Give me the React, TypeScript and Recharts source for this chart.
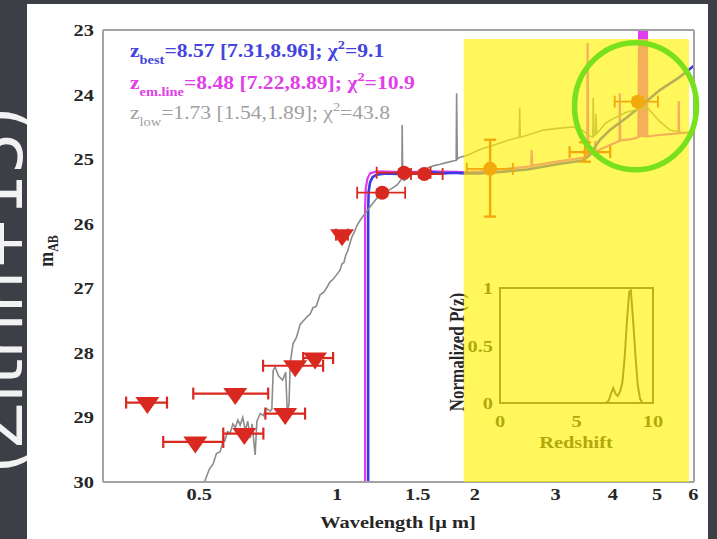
import React from 'react';
import {
  ComposedChart,
  LineChart,
  Line,
  Scatter,
  XAxis,
  YAxis,
  ErrorBar,
  ReferenceArea,
  ReferenceDot,
} from 'recharts';

const SERIF = '"Liberation Serif", "Times New Roman", Times, serif';
const SX = 1.2; // horizontal stretch applied to all chart lettering
const W = 717;
const H = 539;

const RED = '#d9281f';
const BLUE = '#3b3be2';
const MAGENTA = '#e03cf0';
const GREY = '#8c8c8c';
const FRAME = '#a2a2a2';
const INK = '#262626';

// axes
const waveTicks = [0.5, 1, 1.5, 2, 3, 4, 5, 6];
const magTicks = [23, 24, 25, 26, 27, 28, 29, 30];
const waveDomain: [number, number] = [0.308, 6.02];
const magDomain: [number, number] = [23, 30];

// non-detections (upper limits): wavelength, band edges, magnitude
const limitLam = [0.385, 0.599, 0.49, 0.627, 0.77, 0.81, 0.895, 1.025];
const limitLo = [0.346, 0.485, 0.417, 0.564, 0.697, 0.689, 0.843, 0.995];
const limitHi = [0.425, 0.707, 0.564, 0.69, 0.851, 0.932, 0.98, 1.055];
const limitMag = [28.77, 28.63, 29.38, 29.25, 28.94, 28.2, 28.08, 26.17];

// detections
const detLam = [1.254, 1.4, 1.55, 2.159, 4.54];
const detLo = [1.106, 1.22, 1.45, 1.92, 4.04];
const detHi = [1.408, 1.6, 1.7, 2.42, 5.02];
const detMag = [25.52, 25.21, 25.23, 25.15, 24.11];
const detErrBright = [0.05, 0.05, 0.05, 0.45, 0.06];
const detErrFaint = [0.05, 0.05, 0.05, 0.74, 0.06];

// weak IRAC point
const weakLam = [3.48];
const weakLo = [3.22];
const weakHi = [3.95];
const weakMag = [24.89];
const weakErr = [0.15];

// best-fit template (z = 8.57)
const bestFit: [number, number][] = [
  [1.169, 30.3], [1.169, 25.8], [1.172, 25.5], [1.18, 25.36], [1.195, 25.28], [1.22, 25.24],
  [1.28, 25.22], [1.35, 25.23], [1.42, 25.21], [1.5, 25.22], [1.6, 25.2], [1.7, 25.22],
  [1.8, 25.21], [1.9, 25.22], [2.05, 25.22], [2.27, 25.2], [2.6, 25.16], [3.07, 25.07],
  [3.44, 25.02], [3.55, 24.95], [3.62, 24.86], [3.75, 24.7], [3.945, 24.55], [4.3, 24.35],
  [4.59, 24.19], [5.07, 23.93], [5.6, 23.73], [6.1, 23.52],
];

// emission-line template (z = 8.48)
const emLineFit: [number, number][] = [
  [1.151, 30.3], [1.151, 25.75], [1.155, 25.45], [1.165, 25.3], [1.18, 25.22], [1.22, 25.19],
  [1.4, 25.2], [1.6, 25.19], [1.9, 25.2], [2.05, 25.19], [2.27, 25.16], [2.5, 25.13],
  [2.655, 25.11], [2.66, 24.86], [2.668, 25.1], [3.07, 25.03], [3.44, 24.98], [3.52, 24.95],
  [3.525, 23.2], [3.535, 24.94], [3.66, 24.9], [3.665, 24.72], [3.672, 24.9], [3.75, 24.85],
  [4.1, 24.73], [4.14, 24.72], [4.145, 23.98], [4.155, 24.71], [4.4, 24.69], [4.55, 24.66],
  [4.57, 22.8], [4.585, 24.66], [4.6, 22.8], [4.615, 24.66], [4.63, 22.8], [4.645, 24.66],
  [4.66, 22.8], [4.675, 24.66], [4.69, 22.8], [4.705, 24.66], [4.72, 22.8], [4.735, 24.66],
  [4.75, 22.8], [4.76, 24.65], [5.0, 24.63], [5.57, 24.6], [5.575, 24.1], [5.585, 24.6],
  [6.1, 24.58],
];

// low-redshift template (z = 1.73)
const lowZFit: [number, number][] = [
  [0.505, 30.2], [0.515, 29.97], [0.526, 29.8], [0.536, 29.72], [0.545, 29.56], [0.555, 29.53],
  [0.562, 29.4], [0.569, 29.36], [0.576, 29.22], [0.584, 29.24], [0.592, 29.1], [0.599, 29.16],
  [0.607, 29.04], [0.614, 29.12], [0.622, 29.0], [0.63, 29.2], [0.638, 29.06], [0.646, 29.32],
  [0.652, 29.1], [0.662, 29.58], [0.668, 29.06], [0.679, 28.94], [0.69, 28.97], [0.7, 28.86],
  [0.714, 28.9], [0.72, 28.88], [0.725, 28.27], [0.732, 28.22], [0.745, 28.36], [0.76, 28.42],
  [0.772, 28.3], [0.778, 28.9], [0.785, 28.8], [0.79, 28.15], [0.801, 27.86], [0.815, 27.76],
  [0.83, 27.56], [0.845, 27.5], [0.86, 27.44], [0.873, 27.4], [0.886, 27.3], [0.9, 27.28],
  [0.918, 27.1], [0.935, 27.06], [0.951, 26.98], [0.965, 26.9], [0.98, 26.86], [0.995, 26.8],
  [1.015, 26.72], [1.025, 26.62], [1.035, 26.6], [1.045, 26.48], [1.055, 26.42], [1.067, 26.3],
  [1.078, 26.2], [1.092, 26.12], [1.106, 26.02], [1.122, 25.95], [1.14, 25.88], [1.163, 25.8],
  [1.192, 25.7], [1.223, 25.6], [1.255, 25.55], [1.286, 25.5], [1.32, 25.45], [1.352, 25.4],
  [1.373, 25.34], [1.385, 25.3], [1.387, 24.47], [1.391, 25.3], [1.4, 25.33], [1.422, 25.3],
  [1.443, 25.25], [1.48, 25.22], [1.518, 25.18], [1.572, 25.14], [1.63, 25.1], [1.679, 25.08],
  [1.74, 25.05], [1.792, 25.03], [1.82, 25.02], [1.824, 23.98], [1.83, 25.0], [1.856, 24.97],
  [1.904, 24.95], [1.951, 24.92], [2.052, 24.85], [2.159, 24.8], [2.27, 24.75], [2.386, 24.7],
  [2.5, 24.66], [2.505, 24.2], [2.512, 24.66], [2.6, 24.63], [2.818, 24.55], [3.068, 24.52],
  [3.276, 24.5], [3.444, 24.56], [3.56, 24.64], [3.62, 24.66], [3.625, 24.05], [3.64, 24.64],
  [3.67, 24.62], [3.675, 24.3], [3.69, 24.6], [3.752, 24.55], [3.847, 24.45], [3.945, 24.4],
  [4.149, 24.32], [4.298, 24.27], [4.587, 24.22], [4.752, 24.2], [4.9, 24.3], [5.073, 24.42],
  [5.335, 24.55], [5.61, 24.58], [5.9, 24.6], [6.1, 24.6],
];

// highlighted band and ring
const bandLam: [number, number] = [1.89, 5.87];
const bandMag: [number, number] = [23.14, 30];
const ringLam = 4.486;
const ringMag = 24.18;

// redshift probability distribution
const zGrid = [0, 6.9, 7.1, 7.25, 7.4, 7.55, 7.7, 7.85, 8.0, 8.15, 8.3, 8.45, 8.55, 8.7, 8.85, 9.0, 9.15, 9.3, 10];
const pzVals = [0, 0, 0.02, 0.08, 0.13, 0.08, 0.06, 0.1, 0.18, 0.4, 0.72, 0.97, 0.98, 0.72, 0.42, 0.16, 0.04, 0, 0];
const zTicks = [0, 5, 10];
const pTicks = [0, 0.5, 1];

// tables for the library
const toRows = (pts: [number, number][]) => pts.map(([lam, m]) => ({ lam, m }));
const limitRows = limitLam.map((lam, i) => ({
  lam,
  m: limitMag[i],
  ex: [lam - limitLo[i], limitHi[i] - lam],
}));
const detRows = detLam.map((lam, i) => ({
  lam,
  m: detMag[i],
  ex: [lam - detLo[i], detHi[i] - lam],
  ey: [detErrBright[i], detErrFaint[i]],
}));
const weakRows = weakLam.map((lam, i) => ({
  lam,
  m: weakMag[i],
  ex: [lam - weakLo[i], weakHi[i] - lam],
  ey: [weakErr[i], weakErr[i]],
}));
const pzRows = zGrid.map((z, i) => ({ z, p: pzVals[i] }));

function SText({ x, y, size = 17, weight = 700, fill = INK, anchor = 'middle', rotate = 0, children }: any) {
  return (
    <g transform={`translate(${x},${y}) scale(${SX},1)${rotate ? ` rotate(${rotate})` : ''}`}>
      <text x={0} y={0} textAnchor={anchor} fontFamily={SERIF} fontSize={size} fontWeight={weight} fill={fill}>
        {children}
      </text>
    </g>
  );
}

const XTick = (p: any) => <SText x={p.x} y={p.y + 12}>{String(p.payload.value)}</SText>;
const YTick = (p: any) => (
  <SText x={p.x} y={p.y + 6} anchor="end">
    {String(p.payload.value)}
  </SText>
);
const InsetXTick = (p: any) => <SText x={p.x} y={p.y + 14}>{String(p.payload.value)}</SText>;
const InsetYTick = (p: any) => (
  <SText x={p.x} y={p.y + 6} anchor="end">
    {String(p.payload.value)}
  </SText>
);

const DownTriangle = (p: any) =>
  p.cx == null ? <g /> : (
    <polygon points={`${p.cx - 12},${p.cy - 5.5} ${p.cx + 12},${p.cy - 5.5} ${p.cx},${p.cy + 11.5}`} fill={RED} />
  );
const Disc = (p: any) => (p.cx == null ? <g /> : <circle cx={p.cx} cy={p.cy} r={7} fill={RED} />);
const SmallDisc = (p: any) => (p.cx == null ? <g /> : <circle cx={p.cx} cy={p.cy} r={2.5} fill={RED} />);
const Ring = (p: any) =>
  p.cx == null ? <g /> : (
    <ellipse cx={p.cx} cy={p.cy} rx={61} ry={63.5} fill="none" stroke="#79e01c" strokeWidth={5.5} />
  );

const frameLine = { stroke: FRAME, strokeWidth: 2 };
const innerTick = { stroke: FRAME, strokeWidth: 1.5 };

export default function App() {
  return (
    <div style={{ position: 'absolute', left: 0, top: 0, width: W, height: H, background: '#3c3f46', overflow: 'hidden' }}>
      <svg width={W} height={H} style={{ position: 'absolute', left: 0, top: 0 }}>
        <text
          transform="translate(22,290) rotate(-90)"
          textAnchor="middle"
          fontFamily='"DejaVu Sans", sans-serif'
          fontSize={66}
          fill="#f2f2f2"
        >
          (Zitrin+15)
        </text>
      </svg>
      <div style={{ position: 'absolute', left: 27, top: 4, width: 681, height: 535, background: '#ffffff' }} />

      {/* inset: redshift probability */}
      <div style={{ position: 'absolute', left: 440, top: 270 }}>
        <LineChart width={225} height={185} data={pzRows} margin={{ top: 18, right: 12, bottom: 0, left: 0 }}>
          <XAxis
            dataKey="z"
            type="number"
            domain={[0, 10]}
            ticks={zTicks}
            interval={0}
            height={52}
            tickLine={false}
            tickSize={0}
            tickMargin={10}
            axisLine={false}
            tick={InsetXTick}
          />
          <YAxis
            type="number"
            domain={[0, 1]}
            ticks={pTicks}
            interval={0}
            width={60}
            tickLine={false}
            tickSize={0}
            tickMargin={7}
            axisLine={false}
            tick={InsetYTick}
          />
          <ReferenceArea x1={0} x2={10} y1={0} y2={1} fill="none" stroke="#444" strokeWidth={2} />
          <Line
            dataKey="p"
            type="linear"
            stroke="#444"
            strokeWidth={2}
            dot={false}
            activeDot={false}
            isAnimationActive={false}
          />
        </LineChart>
      </div>
      <svg width={W} height={H} style={{ position: 'absolute', left: 0, top: 0 }}>
        <SText x={576} y={448}>Redshift</SText>
        <SText x={464} y={352} rotate={-90}>Normalized P(z)</SText>
      </svg>

      {/* main SED panel */}
      <div style={{ position: 'absolute', left: 0, top: 0 }}>
        <ComposedChart width={W} height={H} margin={{ top: 30, right: 23, bottom: 7, left: 43 }}>
          <XAxis
            xAxisId={0}
            dataKey="lam"
            type="number"
            scale="log"
            domain={waveDomain}
            allowDataOverflow
            ticks={waveTicks}
            interval={0}
            height={50}
            tickLine={false}
            tickSize={0}
            tickMargin={6}
            axisLine={frameLine}
            tick={XTick}
          />
          <XAxis
            xAxisId="top"
            dataKey="lam"
            type="number"
            scale="log"
            domain={waveDomain}
            allowDataOverflow
            ticks={waveTicks}
            interval={0}
            orientation="top"
            mirror
            height={8}
            tick={false}
            tickSize={5}
            tickLine={innerTick}
            axisLine={frameLine}
          />
          <XAxis
            xAxisId="bot"
            dataKey="lam"
            type="number"
            scale="log"
            domain={waveDomain}
            allowDataOverflow
            ticks={waveTicks}
            interval={0}
            orientation="bottom"
            mirror
            height={8}
            tick={false}
            tickSize={5}
            tickLine={innerTick}
            axisLine={false}
          />
          <YAxis
            yAxisId={0}
            dataKey="m"
            type="number"
            domain={magDomain}
            reversed
            allowDataOverflow
            ticks={magTicks}
            interval={0}
            width={60}
            tickLine={false}
            tickSize={0}
            tickMargin={9}
            axisLine={frameLine}
            tick={YTick}
          />
          <YAxis
            yAxisId="lin"
            type="number"
            domain={magDomain}
            reversed
            allowDataOverflow
            ticks={magTicks}
            interval={0}
            orientation="left"
            mirror
            width={8}
            tick={false}
            tickSize={5}
            tickLine={innerTick}
            axisLine={false}
          />
          <YAxis
            yAxisId="rin"
            type="number"
            domain={magDomain}
            reversed
            allowDataOverflow
            ticks={magTicks}
            interval={0}
            orientation="right"
            mirror
            width={8}
            tick={false}
            tickSize={5}
            tickLine={innerTick}
            axisLine={frameLine}
          />

          <Line
            data={toRows(emLineFit)}
            dataKey="m"
            type="linear"
            stroke={MAGENTA}
            strokeWidth={2.2}
            dot={false}
            activeDot={false}
            isAnimationActive={false}
          />
          <Line
            data={toRows(bestFit)}
            dataKey="m"
            type="linear"
            stroke={BLUE}
            strokeWidth={2.6}
            dot={false}
            activeDot={false}
            isAnimationActive={false}
          />
          <Line
            data={toRows(lowZFit)}
            dataKey="m"
            type="linear"
            stroke={GREY}
            strokeWidth={1.6}
            dot={false}
            activeDot={false}
            isAnimationActive={false}
          />

          <Scatter data={limitRows} dataKey="m" shape={DownTriangle} isAnimationActive={false}>
            <ErrorBar dataKey="ex" direction="x" width={6} stroke={RED} strokeWidth={2.2} />
          </Scatter>
          <Scatter data={detRows} dataKey="m" shape={Disc} isAnimationActive={false}>
            <ErrorBar dataKey="ex" direction="x" width={6} stroke={RED} strokeWidth={1.8} />
            <ErrorBar dataKey="ey" direction="y" width={6} stroke={RED} strokeWidth={2.4} />
          </Scatter>
          <Scatter data={weakRows} dataKey="m" shape={SmallDisc} isAnimationActive={false}>
            <ErrorBar dataKey="ex" direction="x" width={6} stroke={RED} strokeWidth={2.2} />
            <ErrorBar dataKey="ey" direction="y" width={6} stroke={RED} strokeWidth={2.2} />
          </Scatter>

          <ReferenceArea
            x1={bandLam[0]}
            x2={bandLam[1]}
            y1={bandMag[0]}
            y2={bandMag[1]}
            fill="#fff300"
            fillOpacity={0.64}
            stroke="none"
            ifOverflow="visible"
            zIndex={1500}
          />
          <ReferenceDot x={ringLam} y={ringMag} ifOverflow="visible" shape={Ring} zIndex={1600} />
        </ComposedChart>
      </div>

      {/* legend lines and axis titles */}
      <svg width={W} height={H} style={{ position: 'absolute', left: 0, top: 0, pointerEvents: 'none' }}>
        <g transform={`translate(130,57) scale(${SX},1)`}>
          <text fontFamily={SERIF} fontSize={18} fontWeight={700} fill="#4444dc">
            z<tspan fontSize={12} dy={7}>best</tspan>
            <tspan dy={-7}>=8.57 [7.31,8.96]; χ</tspan>
            <tspan fontSize={12} dy={-8}>2</tspan>
            <tspan dy={8}>=9.1</tspan>
          </text>
        </g>
        <g transform={`translate(130,89) scale(${SX},1)`}>
          <text fontFamily={SERIF} fontSize={18} fontWeight={700} fill="#df3ee8">
            z<tspan fontSize={12} dy={7}>em.line</tspan>
            <tspan dy={-7}>=8.48 [7.22,8.89]; χ</tspan>
            <tspan fontSize={12} dy={-8}>2</tspan>
            <tspan dy={8}>=10.9</tspan>
          </text>
        </g>
        <g transform={`translate(130,119) scale(${SX},1)`}>
          <text fontFamily={SERIF} fontSize={18} fontWeight={400} fill="#a0a0a0">
            z<tspan fontSize={12} dy={7}>low</tspan>
            <tspan dy={-7}>=1.73 [1.54,1.89]; χ</tspan>
            <tspan fontSize={12} dy={-8}>2</tspan>
            <tspan dy={8}>=43.8</tspan>
          </text>
        </g>
        <SText x={398} y={528}>Wavelength [μ m]</SText>
        <g transform={`translate(53,251) scale(${SX},1) rotate(-90)`}>
          <text textAnchor="middle" fontFamily={SERIF} fontSize={18} fontWeight={700} fill={INK}>
            m<tspan fontSize={12} dy={4}>AB</tspan>
          </text>
        </g>
      </svg>
    </div>
  );
}
